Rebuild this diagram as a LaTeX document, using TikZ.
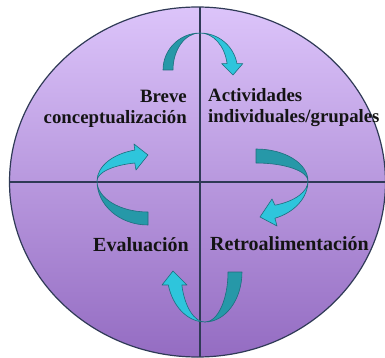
\documentclass[tikz,border=0pt]{standalone}
\usepackage{fontspec}
\setmainfont{Liberation Serif}
\definecolor{ringline}{RGB}{47,58,86}
\definecolor{topfill}{RGB}{220,196,250}
\definecolor{botfill}{RGB}{148,108,194}
\definecolor{darkteal}{RGB}{38,152,168}
\definecolor{lightteal}{RGB}{46,197,220}
\definecolor{tealedge}{RGB}{30,110,125}
\definecolor{txt}{RGB}{20,20,20}
\begin{document}
\begin{tikzpicture}[x=1pt,y=-1pt,
  ring/.style={draw=ringline,line width=1.2pt,top color=topfill,bottom color=botfill},
  cross/.style={draw=ringline,line width=1.8pt},
  backband/.style={fill=darkteal,draw=tealedge,line width=0.6pt,line join=round},
  frontband/.style={fill=lightteal,draw=tealedge,line width=0.6pt,line join=round},
  lbl/.style={inner sep=0pt,text=txt,font=\fontsize{18.8}{20}\selectfont\bfseries},
  lblb/.style={inner sep=0pt,text=txt,font=\fontsize{20}{22}\selectfont\bfseries}]
\useasboundingbox (0,0) rectangle (385,358);
\clip (0,0) rectangle (385,358);
% circle body
\path[ring] (197.5,182) ellipse [x radius=188, y radius=175];
\coordinate (vt) at (200,7);
\coordinate (vb) at (200,357);
\coordinate (hl) at (9.5,182);
\coordinate (hr) at (386,182);
\draw[cross] (vt) -- (vb);
\draw[cross] (hl) -- (hr);
% top arrow
\begin{scope}[shift={(200,70)}]
  \path[backband] (180:37 and 37) arc[start angle=180,end angle=270,x radius=37,y radius=37]
     arc[start angle=270,end angle=180,x radius=27,y radius=37] -- cycle;
  \path[frontband] (270:37.5 and 37) arc[start angle=270,end angle=350,x radius=37.5,y radius=37]
     -- (350:43.5 and 37) -- (33,5) -- (350:22 and 37) -- (350:27.5 and 37)
     arc[start angle=350,end angle=270,x radius=27.5,y radius=37] -- cycle;
\end{scope}
% right arrow
\begin{scope}[shift={(256,181)}]
  \path[backband] (270:52 and 32) arc[start angle=270,end angle=360,x radius=52,y radius=32]
     arc[start angle=360,end angle=270,x radius=52,y radius=18] -- cycle;
  \path[frontband] (0:52 and 40) arc[start angle=0,end angle=68.6,x radius=52,y radius=40]
     -- (21,45) -- (4,36) -- (16,18) -- (68.6:52 and 26)
     arc[start angle=68.6,end angle=0,x radius=52,y radius=26] -- cycle;
\end{scope}
% left arrow
\begin{scope}[shift={(148,181)}]
  \path[backband] (90:51 and 44) arc[start angle=90,end angle=180,x radius=51,y radius=44]
     arc[start angle=180,end angle=90,x radius=51,y radius=31] -- cycle;
  \path[frontband] (180:51 and 32) arc[start angle=180,end angle=255,x radius=51,y radius=32]
     -- (-14,-37) -- (0,-26) -- (-12,-11) -- (255:51 and 18.6)
     arc[start angle=255,end angle=180,x radius=51,y radius=18.6] -- cycle;
\end{scope}
% bottom arrow
\begin{scope}[shift={(205,272)}]
  \path[backband] (0:37 and 50) arc[start angle=0,end angle=90,x radius=37,y radius=50]
     arc[start angle=90,end angle=0,x radius=23,y radius=50] -- cycle;
  \path[frontband] (90:38 and 50) arc[start angle=90,end angle=165,x radius=38,y radius=50]
     -- (-43,13) -- (-32,-1) -- (-18,13) -- (165:24 and 50)
     arc[start angle=165,end angle=90,x radius=24,y radius=50] -- cycle;
\end{scope}
% labels
\node[lbl,anchor=base east] (breve) at (187,102.7) {Breve};
\node[lbl,anchor=base east] (concept) at (187,123.3) {conceptualización};
\node[lbl,anchor=base west] (activ) at (208,101.7) {Actividades};
\node[lbl,anchor=base west] (indiv) at (208,123) {individuales/grupales};
\node[lblb,anchor=base west] (eval) at (93,251) {Evaluación};
\node[lblb,anchor=base west] (retro) at (210,250.7) {Retroalimentación};
\end{tikzpicture}
\end{document}
